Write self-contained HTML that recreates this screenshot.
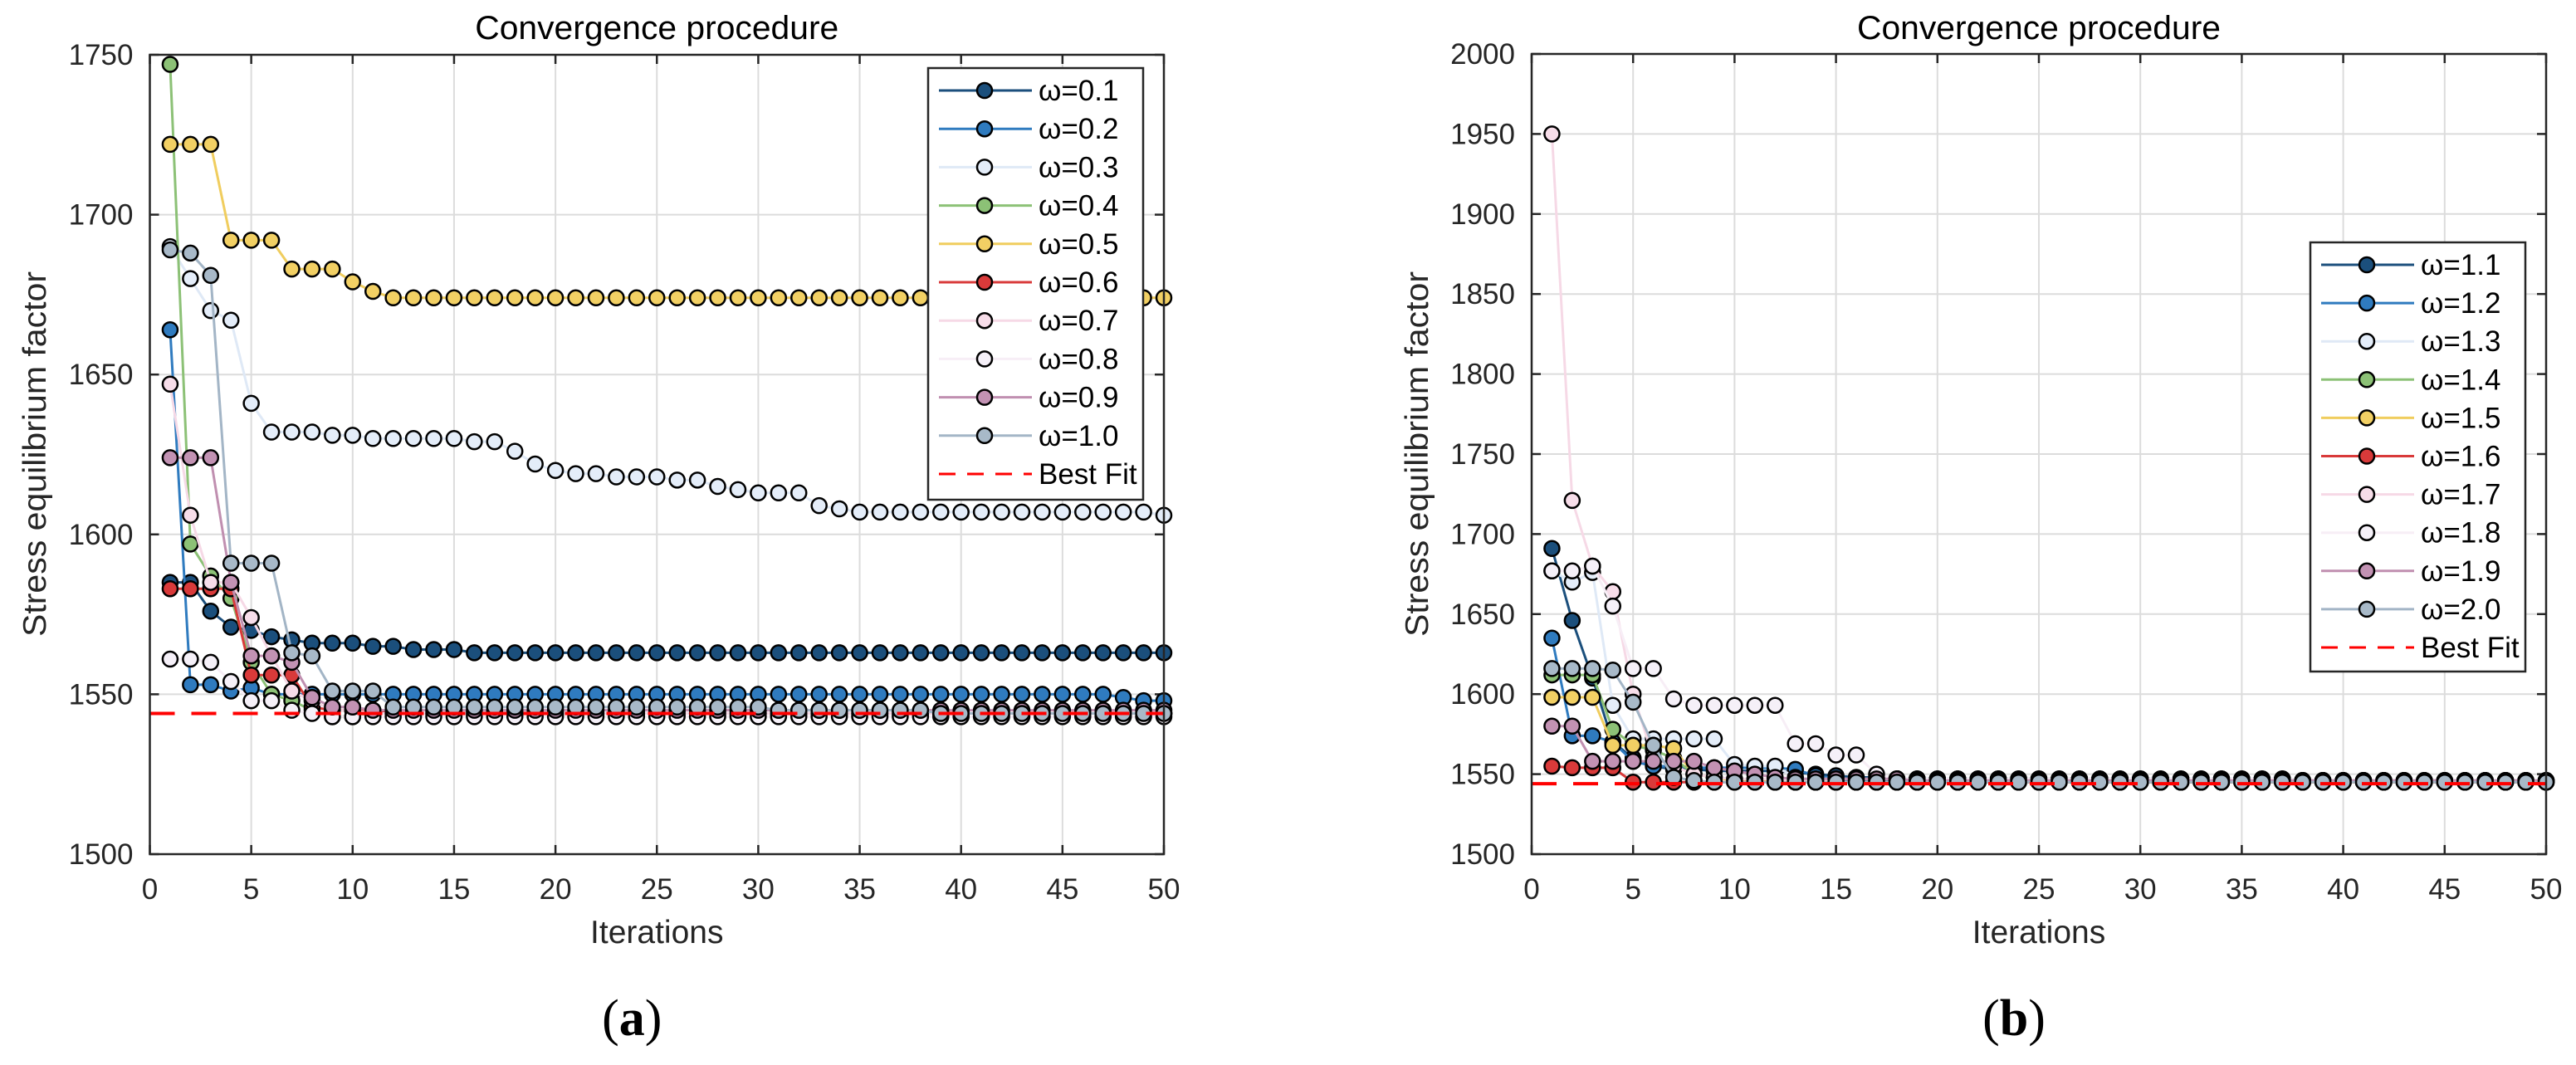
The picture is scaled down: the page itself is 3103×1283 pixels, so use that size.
<!DOCTYPE html>
<html><head><meta charset="utf-8"><style>
html,body{margin:0;padding:0;background:#fff;}
svg{display:block;font-family:"Liberation Sans",Arial,sans-serif;}
</style></head><body>
<svg id="fig" width="3103" height="1283" viewBox="0 0 3103 1283" xmlns="http://www.w3.org/2000/svg"></svg>
<script>
// ---------- data ----------
const iterations = Array.from({length:50},(_,i)=>i+1);
const xTicks = [0,5,10,15,20,25,30,35,40,45,50];
const yTicksA = [1500,1550,1600,1650,1700,1750];
const yTicksB = [1500,1550,1600,1650,1700,1750,1800,1850,1900,1950,2000];
const labelsA = ["ω=0.1","ω=0.2","ω=0.3","ω=0.4","ω=0.5","ω=0.6","ω=0.7","ω=0.8","ω=0.9","ω=1.0"];
const labelsB = ["ω=1.1","ω=1.2","ω=1.3","ω=1.4","ω=1.5","ω=1.6","ω=1.7","ω=1.8","ω=1.9","ω=2.0"];
const bestFitA = 1544;
const bestFitB = 1544;

const a01=[1585,1585,1576,1571,1570,1568,1567,1566,1566,1566,1565,1565,1564,1564,1564,1563,1563,1563,1563,1563,1563,1563,1563,1563,1563,1563,1563,1563,1563,1563,1563,1563,1563,1563,1563,1563,1563,1563,1563,1563,1563,1563,1563,1563,1563,1563,1563,1563,1563,1563];
const a02=[1664,1553,1553,1551,1552,1550,1550,1550,1550,1550,1550,1550,1550,1550,1550,1550,1550,1550,1550,1550,1550,1550,1550,1550,1550,1550,1550,1550,1550,1550,1550,1550,1550,1550,1550,1550,1550,1550,1550,1550,1550,1550,1550,1550,1550,1550,1550,1549,1548,1548];
const a03=[1690,1680,1670,1667,1641,1632,1632,1632,1631,1631,1630,1630,1630,1630,1630,1629,1629,1626,1622,1620,1619,1619,1618,1618,1618,1617,1617,1615,1614,1613,1613,1613,1609,1608,1607,1607,1607,1607,1607,1607,1607,1607,1607,1607,1607,1607,1607,1607,1607,1606];
const a04=[1747,1597,1587,1580,1560,1550,1548,1545,1543,1543,1544,1544,1544,1544,1544,1544,1544,1544,1544,1544,1544,1544,1544,1544,1544,1544,1544,1544,1544,1544,1544,1544,1544,1544,1544,1544,1544,1544,1544,1544,1544,1544,1544,1544,1544,1544,1544,1544,1544,1544];
const a05=[1722,1722,1722,1692,1692,1692,1683,1683,1683,1679,1676,1674,1674,1674,1674,1674,1674,1674,1674,1674,1674,1674,1674,1674,1674,1674,1674,1674,1674,1674,1674,1674,1674,1674,1674,1674,1674,1674,1674,1674,1674,1674,1674,1674,1674,1674,1674,1674,1674,1674];
const a06=[1583,1583,1583,1583,1556,1556,1556,1546,1545,1545,1545,1544,1544,1544,1544,1544,1544,1544,1544,1544,1544,1544,1544,1544,1544,1544,1544,1544,1544,1544,1544,1544,1544,1544,1544,1544,1544,1544,1544,1544,1544,1544,1544,1544,1544,1544,1544,1544,1544,1544];
const a07=[1647,1606,1585,1585,1574,1562,1551,1548,1545,1545,1544,1544,1544,1544,1544,1544,1544,1544,1544,1544,1544,1544,1544,1544,1544,1544,1544,1544,1544,1544,1544,1544,1544,1544,1544,1544,1544,1544,1544,1544,1544,1544,1544,1544,1544,1544,1544,1544,1544,1544];
const a08=[1561,1561,1560,1554,1548,1548,1545,1544,1543,1543,1543,1543,1543,1543,1543,1543,1543,1543,1543,1543,1543,1543,1543,1543,1543,1543,1543,1543,1543,1543,1543,1543,1543,1543,1543,1543,1543,1543,1543,1543,1543,1543,1543,1543,1543,1543,1543,1543,1543,1543];
const a09=[1624,1624,1624,1585,1562,1562,1560,1549,1546,1546,1545,1545,1545,1545,1545,1545,1545,1545,1545,1545,1545,1545,1545,1545,1545,1545,1545,1545,1545,1545,1545,1545,1545,1545,1545,1545,1545,1545,1545,1545,1545,1545,1545,1545,1545,1545,1545,1545,1545,1545];
const a10=[1689,1688,1681,1591,1591,1591,1563,1562,1551,1551,1551,1546,1546,1546,1546,1546,1546,1546,1546,1546,1546,1546,1546,1546,1546,1546,1546,1546,1546,1546,1545,1545,1545,1545,1545,1545,1545,1545,1544,1544,1544,1544,1544,1544,1544,1544,1544,1544,1544,1544];

const b11=[1691,1646,1610,1570,1560,1555,1553,1553,1552,1552,1552,1552,1551,1550,1549,1548,1548,1547,1547,1547,1547,1547,1547,1547,1547,1547,1547,1547,1547,1547,1547,1547,1547,1547,1547,1547,1547,1546,1546,1546,1546,1546,1546,1546,1546,1546,1546,1546,1546,1545];
const b12=[1635,1574,1574,1570,1558,1555,1555,1554,1554,1554,1554,1554,1553,1549,1547,1546,1546,1546,1546,1546,1546,1546,1546,1546,1546,1546,1546,1546,1546,1546,1546,1546,1546,1546,1546,1546,1546,1546,1546,1546,1546,1546,1546,1546,1546,1546,1546,1546,1546,1546];
const b13=[1677,1670,1676,1593,1572,1572,1572,1572,1572,1556,1555,1555,1548,1547,1547,1547,1547,1547,1547,1547,1547,1547,1547,1547,1547,1547,1547,1547,1547,1547,1547,1547,1547,1547,1547,1547,1547,1546,1546,1546,1546,1546,1546,1546,1546,1546,1546,1546,1546,1546];
const b14=[1612,1612,1612,1578,1568,1565,1560,1550,1548,1546,1546,1545,1545,1545,1545,1545,1545,1545,1545,1545,1545,1545,1545,1545,1545,1545,1545,1545,1545,1545,1545,1545,1545,1545,1545,1545,1545,1545,1545,1545,1545,1545,1545,1545,1545,1545,1545,1545,1545,1545];
const b15=[1598,1598,1598,1568,1568,1568,1566,1550,1548,1546,1546,1545,1545,1545,1545,1545,1545,1545,1545,1545,1545,1545,1545,1545,1545,1545,1545,1545,1545,1545,1545,1545,1545,1545,1545,1545,1545,1545,1545,1545,1545,1545,1545,1545,1545,1545,1545,1545,1545,1545];
const b16=[1555,1554,1554,1554,1545,1545,1545,1545,1545,1545,1545,1545,1545,1545,1545,1545,1545,1545,1545,1545,1545,1545,1545,1545,1545,1545,1545,1545,1545,1545,1545,1545,1545,1545,1545,1545,1545,1545,1545,1545,1545,1545,1545,1545,1545,1545,1545,1545,1545,1545];
const b17=[1950,1721,1680,1664,1600,1560,1555,1550,1548,1547,1547,1547,1547,1547,1547,1547,1547,1547,1547,1546,1546,1546,1546,1546,1546,1546,1546,1546,1546,1546,1546,1546,1546,1546,1546,1546,1546,1546,1546,1546,1546,1546,1546,1546,1546,1546,1546,1546,1546,1546];
const b18=[1677,1677,1680,1655,1616,1616,1597,1593,1593,1593,1593,1593,1569,1569,1562,1562,1550,1547,1547,1547,1547,1547,1547,1547,1547,1547,1547,1547,1547,1547,1547,1547,1547,1547,1547,1547,1547,1546,1546,1546,1546,1546,1546,1546,1546,1546,1546,1546,1546,1546];
const b19=[1580,1580,1558,1558,1558,1558,1558,1558,1554,1552,1550,1548,1547,1547,1547,1547,1547,1547,1546,1546,1546,1546,1546,1546,1546,1546,1546,1546,1546,1546,1546,1546,1546,1546,1546,1546,1546,1546,1546,1546,1546,1546,1546,1546,1546,1546,1546,1546,1546,1546];
const b20=[1616,1616,1616,1615,1595,1568,1548,1546,1545,1545,1545,1545,1545,1545,1545,1545,1545,1545,1545,1545,1545,1545,1545,1545,1545,1545,1545,1545,1545,1545,1545,1545,1545,1545,1545,1545,1545,1545,1545,1545,1545,1545,1545,1545,1545,1545,1545,1545,1545,1545];

const seriesA=[a01,a02,a03,a04,a05,a06,a07,a08,a09,a10];
const seriesB=[b11,b12,b13,b14,b15,b16,b17,b18,b19,b20];
// ---------- styles ----------
const lineCols=["#1b4f7c","#2f7bbf","#dfe9f6","#8cc176","#f0cd5e","#d93a3a","#f6d9e6","#f7eef6","#c08fb0","#a3b5c6"];
const fillCols=["#1b4f7c","#2f7bbf","#e4edf9","#8cc176","#f2d064","#d93a3a","#f7dde9","#f5f0f8","#c292b3","#a8b9c8"];

const NS="http://www.w3.org/2000/svg";
const svg=document.getElementById('fig');
function mk(tag,attrs,parent){const e=document.createElementNS(NS,tag);for(const k in attrs)e.setAttribute(k,attrs[k]);(parent||svg).appendChild(e);return e;}

function drawPanel(cfg){
  const {x0,x1,yTop,yBot,yMin,yMax,yTicks,series,labels,bestFit,leg,id,ylabelX,letter}=cfg;
  const g=mk('g',{});
  
  
  const sx=v=>x0+(v-0)/(50-0)*(x1-x0);
  const sy=v=>yBot-(v-yMin)/(yMax-yMin)*(yBot-yTop);
  const grid=mk('g',{},g);
  
  
  xTicks.forEach(t=>{if(t>0&&t<50)mk('line',{x1:sx(t),x2:sx(t),y1:yTop,y2:yBot,stroke:'#dcdcdc','stroke-width':2},grid);});
  yTicks.forEach(t=>{if(t>yMin&&t<yMax)mk('line',{x1:x0,x2:x1,y1:sy(t),y2:sy(t),stroke:'#dcdcdc','stroke-width':2},grid);});
  xTicks.forEach(t=>{
    mk('line',{x1:sx(t),x2:sx(t),y1:yBot,y2:yBot-11,stroke:'#262626','stroke-width':2.5},g);
    mk('line',{x1:sx(t),x2:sx(t),y1:yTop,y2:yTop+11,stroke:'#262626','stroke-width':2.5},g);
    const tx=mk('text',{x:sx(t),y:1083,'font-size':35,fill:'#262626','text-anchor':'middle'},g);
    
    
    tx.textContent=t;
  });
  yTicks.forEach(t=>{
    mk('line',{x1:x0,x2:x0+11,y1:sy(t),y2:sy(t),stroke:'#262626','stroke-width':2.5},g);
    mk('line',{x1:x1,x2:x1-11,y1:sy(t),y2:sy(t),stroke:'#262626','stroke-width':2.5},g);
    const tx=mk('text',{x:x0-20,y:sy(t)+12,'font-size':35,fill:'#262626','text-anchor':'end'},g);
    
    
    tx.textContent=t;
  });
  series.forEach((s,i)=>{
    const sg=mk('g',{},g);
    
    
    const pts=s.map((v,j)=>sx(iterations[j])+','+sy(v)).join(' ');
    mk('polyline',{points:pts,fill:'none',stroke:lineCols[i],'stroke-width':3},sg);
    s.forEach((v,j)=>{
      const c=mk('circle',{cx:sx(iterations[j]),cy:sy(v),r:9,fill:fillCols[i],stroke:'#000','stroke-width':2.5},sg);
      
      
    });
  });
  const bf=mk('line',{x1:x0,x2:x1,y1:sy(bestFit),y2:sy(bestFit),stroke:'#ff0000','stroke-width':4,'stroke-dasharray':'30,20'},g);
  
  
  const box=mk('rect',{x:x0,y:yTop,width:x1-x0,height:yBot-yTop,fill:'none',stroke:'#262626','stroke-width':2.5},g);
  
  
  const ti=mk('text',{x:(x0+x1)/2,y:47,'font-size':40,fill:'#000','text-anchor':'middle',textLength:438,lengthAdjust:'spacingAndGlyphs'},g);
  
  
  ti.textContent='Convergence procedure';
  const xl=mk('text',{x:(x0+x1)/2,y:1136,'font-size':39,fill:'#262626','text-anchor':'middle'},g);
  
  
  xl.textContent='Iterations';
  const yl=mk('text',{x:0,y:0,'font-size':39,fill:'#262626','text-anchor':'middle',textLength:440,lengthAdjust:'spacingAndGlyphs',transform:'translate('+ylabelX+',547) rotate(-90)'},g);
  
  
  yl.textContent='Stress equilibrium factor';
  const lt=mk('text',{x:(x0+x1)/2-30,y:1247,'font-size':62,fill:'#000','text-anchor':'middle','font-family':'"Liberation Serif",serif'},g);
  
  
  lt.innerHTML='(<tspan font-weight="bold">'+letter+'</tspan>)';
  const lg=mk('g',{},g);
  
  
  mk('rect',{x:leg.x,y:leg.y,width:259,height:leg.h,fill:'#fff',stroke:'#262626','stroke-width':2.5},lg);
  labels.forEach((lab,i)=>{
    const ry=leg.r0+i*leg.step;
    const e=mk('g',{},lg);
    
    
    mk('line',{x1:leg.x+13,x2:leg.x+125,y1:ry,y2:ry,stroke:lineCols[i],'stroke-width':3},e);
    mk('circle',{cx:leg.x+68,cy:ry,r:9,fill:fillCols[i],stroke:'#000','stroke-width':2.5},e);
    const t=mk('text',{x:leg.x+133,y:ry+12,'font-size':35,fill:'#000'},e);
    t.textContent=lab;
  });
  const ry=leg.r0+10*leg.step;
  const e=mk('g',{},lg);
  
  
  mk('line',{x1:leg.x+13,x2:leg.x+125,y1:ry,y2:ry,stroke:'#ff0000','stroke-width':3,'stroke-dasharray':'20,14'},e);
  const t=mk('text',{x:leg.x+133,y:ry+12,'font-size':35,fill:'#000'},e);
  t.textContent='Best Fit';
}

drawPanel({id:'left',x0:180.5,x1:1402,yTop:66,yBot:1029,yMin:1500,yMax:1750,yTicks:yTicksA,series:seriesA,labels:labelsA,bestFit:bestFitA,leg:{x:1118,y:82,h:520,r0:109,step:46.2},ylabelX:55,letter:'a'});
drawPanel({id:'right',x0:1845,x1:3067,yTop:65,yBot:1029,yMin:1500,yMax:2000,yTicks:yTicksB,series:seriesB,labels:labelsB,bestFit:bestFitB,leg:{x:2783,y:292,h:517,r0:319,step:46.1},ylabelX:1720,letter:'b'});
</script>
</body></html>
